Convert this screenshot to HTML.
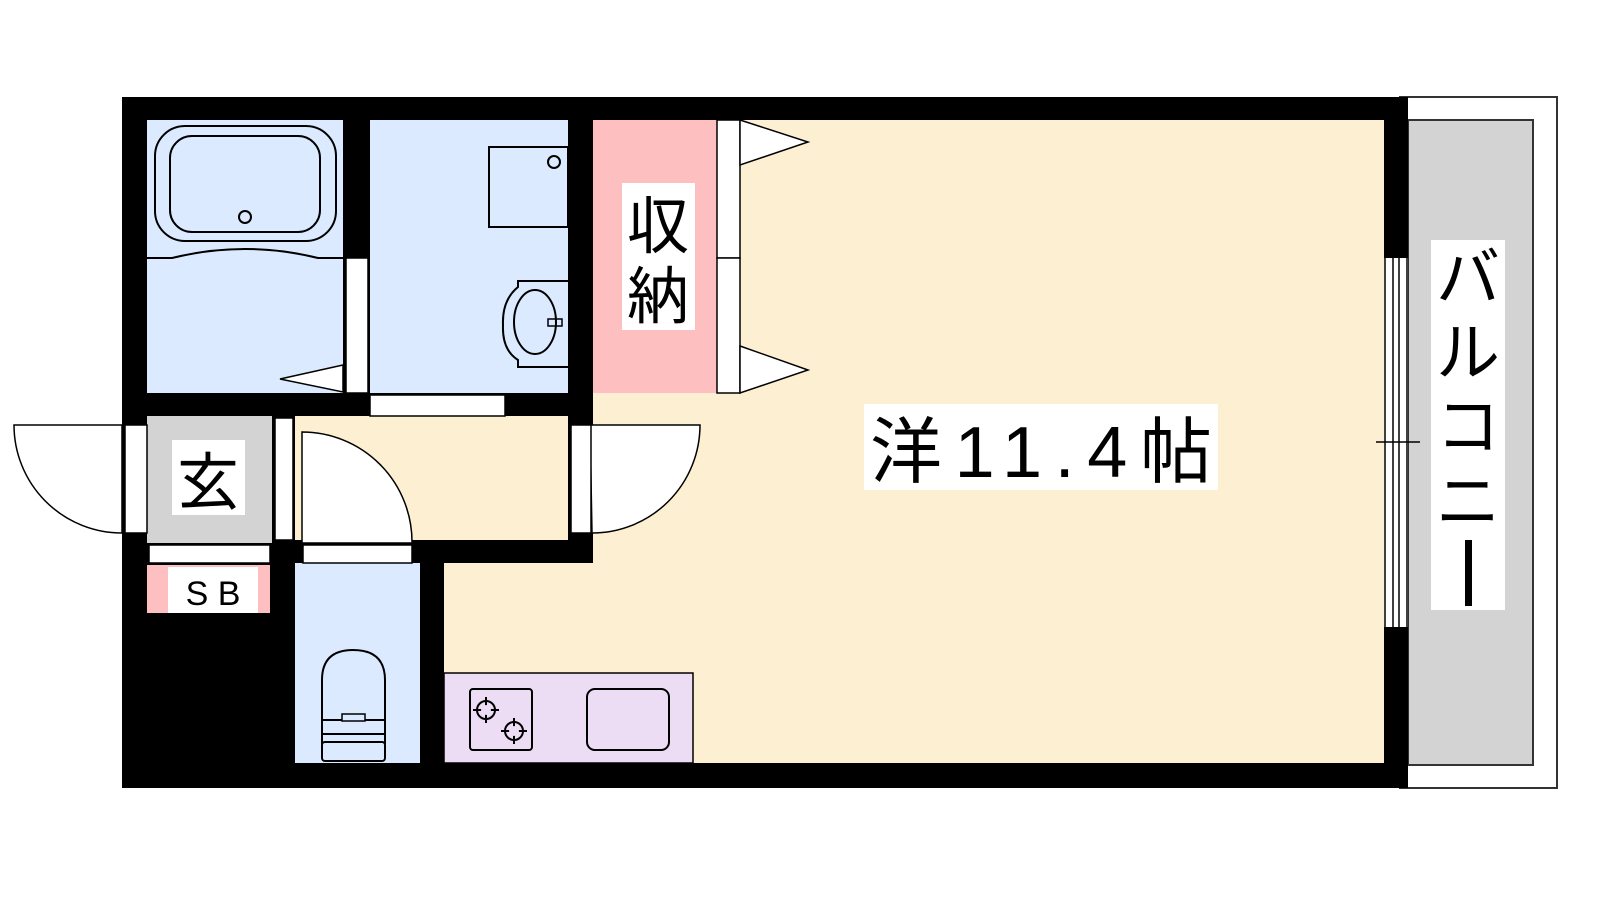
<!DOCTYPE html>
<html><head><meta charset="utf-8"><style>
html,body{margin:0;padding:0;background:#fff;width:1600px;height:900px;overflow:hidden}
svg{display:block}
text{font-family:"Liberation Sans","Noto Sans CJK JP",sans-serif;fill:#000}
</style></head><body>
<svg width="1600" height="900" viewBox="0 0 1600 900" xmlns="http://www.w3.org/2000/svg">
<rect x="1400" y="97" width="157" height="691" fill="#fff" stroke="#333" stroke-width="2"/>
<rect x="1408" y="120" width="125" height="645" fill="#d3d3d3" stroke="#333" stroke-width="2"/>
<rect x="122" y="97" width="1286" height="691" fill="#000"/>
<rect x="593" y="120" width="791" height="643" fill="#fdf0d2"/>
<rect x="444" y="563" width="150" height="200" fill="#fdf0d2"/>
<rect x="295" y="416" width="273" height="124" fill="#fdf0d2"/>
<rect x="147" y="120" width="196" height="273" fill="#dbeafe"/>
<rect x="370" y="120" width="198" height="273" fill="#dbeafe"/>
<rect x="593" y="120" width="124" height="273" fill="#fdbfbf"/>
<rect x="147" y="416" width="125" height="127" fill="#d3d3d3"/>
<rect x="147" y="565" width="123" height="48" fill="#fdbfbf"/>
<rect x="295" y="563" width="125" height="200" fill="#dbeafe"/>
<rect x="444" y="673" width="249" height="90" fill="#ecdcf4" stroke="#000" stroke-width="1.5"/>
<rect x="470" y="689" width="62" height="61" rx="3" fill="none" stroke="#000" stroke-width="2"/>
<g stroke="#000" stroke-width="2" fill="none">
<circle cx="486" cy="710" r="9"/><path d="M486 697v26M473 710h26"/>
<circle cx="514" cy="731" r="9"/><path d="M514 718v26M501 731h26"/>
</g>
<circle cx="486" cy="710" r="5" fill="#ecdcf4"/><circle cx="514" cy="731" r="5" fill="#ecdcf4"/>
<rect x="587" y="689" width="82" height="61" rx="8" fill="none" stroke="#000" stroke-width="2"/>
<rect x="1384" y="258" width="24" height="369" fill="#fff"/>
<g stroke="#000" stroke-width="1.5">
<line x1="1385" y1="258" x2="1385" y2="627"/><line x1="1407" y1="258" x2="1407" y2="627"/>
<line x1="1393" y1="258" x2="1393" y2="627"/><line x1="1399" y1="258" x2="1399" y2="627"/>
<line x1="1376" y1="442" x2="1420" y2="442"/>
</g>
<rect x="155" y="126" width="181" height="115" rx="30" fill="none" stroke="#000" stroke-width="2"/>
<rect x="170" y="136" width="150" height="96" rx="22" fill="none" stroke="#000" stroke-width="2"/>
<circle cx="245" cy="217" r="6" fill="none" stroke="#000" stroke-width="2"/>
<path d="M147 258 L172 258 Q245 240 318 258 L343 258" fill="none" stroke="#000" stroke-width="2"/>
<polygon points="343,365 280,379 343,392" fill="#fff" stroke="#000" stroke-width="1.5"/>
<rect x="346" y="258" width="22" height="135" fill="#fff" stroke="#000" stroke-width="1.5"/>
<rect x="489" y="147" width="79" height="80" fill="none" stroke="#000" stroke-width="2"/>
<circle cx="554" cy="162" r="6" fill="none" stroke="#000" stroke-width="2"/>
<path d="M568 281 L518 281 L518 287 Q502 300 503 325 Q502 350 518 360 L518 367 L568 367" fill="#dbeafe" stroke="#000" stroke-width="2"/>
<ellipse cx="535" cy="322" rx="21" ry="32" fill="none" stroke="#000" stroke-width="2"/>
<rect x="548" y="319" width="14" height="7" fill="none" stroke="#000" stroke-width="1.5"/>
<rect x="370" y="395" width="135" height="21" fill="#fff" stroke="#000" stroke-width="1.5"/>
<rect x="717" y="120" width="23" height="138" fill="#fff" stroke="#000" stroke-width="1.5"/>
<rect x="717" y="258" width="23" height="135" fill="#fff" stroke="#000" stroke-width="1.5"/>
<polygon points="740,120 808,142 740,165" fill="#fff" stroke="#000" stroke-width="1.5"/>
<polygon points="740,346 808,370 740,393" fill="#fff" stroke="#000" stroke-width="1.5"/>
<path d="M122 425 L14 425 A108 108 0 0 0 122 533 Z" fill="#fff" stroke="#000" stroke-width="1.5"/>
<rect x="125" y="425" width="22" height="108" fill="#fff" stroke="#000" stroke-width="1.5"/>
<rect x="275" y="418" width="18" height="122" fill="#fff" stroke="#000" stroke-width="1.5"/>
<rect x="149" y="545" width="121" height="18" fill="#fff" stroke="#000" stroke-width="1.5"/>
<path d="M302 543 L302 432 A110 110 0 0 1 412 543 Z" fill="#fff" stroke="#000" stroke-width="1.5"/>
<rect x="303" y="545" width="109" height="18" fill="#fff" stroke="#000" stroke-width="1.5"/>
<path d="M590 425 L700 425 A108 108 0 0 1 592 533 Z" fill="#fff" stroke="#000" stroke-width="1.5"/>
<rect x="571" y="425" width="20" height="108" fill="#fff" stroke="#000" stroke-width="1.5"/>
<path d="M322 743 L322 680 Q322 650 353 650 Q385 650 385 680 L385 743 Z" fill="none" stroke="#000" stroke-width="2"/>
<rect x="322" y="720" width="63" height="14" fill="#dbeafe" stroke="#000" stroke-width="2"/>
<rect x="342" y="714" width="23" height="7" fill="#dbeafe" stroke="#000" stroke-width="1.5"/>
<rect x="322" y="742" width="63" height="19" rx="3" fill="#dbeafe" stroke="#000" stroke-width="2"/>
<rect x="864" y="404" width="354" height="86" fill="#fff"/>
<text x="870" y="477" font-size="72" textLength="342" lengthAdjust="spacing">洋11.4帖</text>
<rect x="622" y="183" width="73" height="147" fill="#fff"/>
<text x="658" y="248" font-size="62" text-anchor="middle">収</text>
<text x="658" y="318" font-size="62" text-anchor="middle">納</text>
<rect x="172" y="440" width="73" height="75" fill="#fff"/>
<text x="208" y="504" font-size="62" text-anchor="middle">玄</text>
<rect x="168" y="567" width="90" height="46" fill="#fff"/>
<text x="213" y="605" font-size="34" text-anchor="middle">S B</text>
<rect x="1431" y="240" width="74" height="370" fill="#fff"/>
<g font-size="64" text-anchor="middle">
<text x="1468" y="300">バ</text><text x="1468" y="375">ル</text><text x="1468" y="449">コ</text><text x="1468" y="524">ニ</text>
</g>
<rect x="1465" y="540" width="7" height="66" fill="#000"/>
</svg>
</body></html>
